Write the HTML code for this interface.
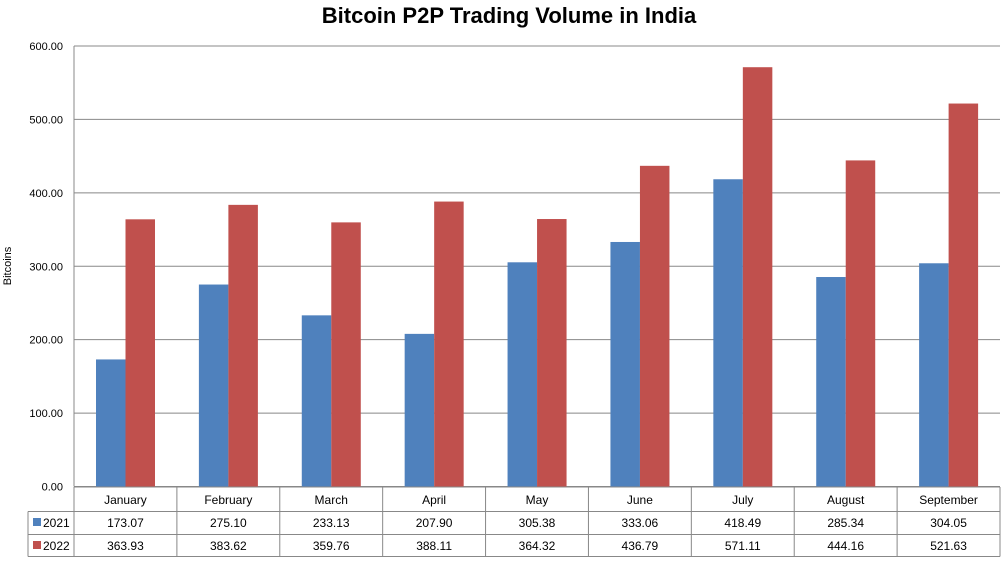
<!DOCTYPE html>
<html><head><meta charset="utf-8"><style>
body{margin:0;background:#fff;font-family:"Liberation Sans",sans-serif;}
svg text{font-family:"Liberation Sans",sans-serif;}
</style></head><body>
<svg width="1005" height="561" id="c">
<text x="509" y="23" text-anchor="middle" font-size="22" font-weight="bold">Bitcoin P2P Trading Volume in India</text>
<text transform="translate(11,266) rotate(-90)" text-anchor="middle" font-size="11">Bitcoins</text>
</svg>
<script>
const categories=["January","February","March","April","May","June","July","August","September"];
const s2021=[173.07,275.10,233.13,207.90,305.38,333.06,418.49,285.34,304.05];
const s2022=[363.93,383.62,359.76,388.11,364.32,436.79,571.11,444.16,521.63];
const yTicks=[0,100,200,300,400,500,600];
const svg=document.getElementById('c');const NS='http://www.w3.org/2000/svg';
const L=74,R=1000,T=46,B=486.5,tl=28;
const cw=(R-L)/categories.length;
const y=v=>B-(v/600)*(B-T);
function mk(t,a,p){const e=document.createElementNS(NS,t);for(const k in a)e.setAttribute(k,a[k]);(p||svg).appendChild(e);return e;}
yTicks.forEach(v=>{
 const g=mk('line',{x1:L,x2:R,y1:y(v),y2:y(v),stroke:'#888','stroke-width':1});
 
 
 const t=mk('text',{x:63,y:y(v)+4,'text-anchor':'end','font-size':11});t.textContent=v.toFixed(2);
 
 
});
mk('line',{x1:L,x2:L,y1:T,y2:B,stroke:'#888'});
const bw=29.5,off=22;
categories.forEach((c,i)=>{
 const x0=L+i*cw;
 const b1=mk('rect',{x:x0+off,y:y(s2021[i]),width:bw,height:B-y(s2021[i]),fill:'#4f81bd'});
 
 
 const b2=mk('rect',{x:x0+off+bw,y:y(s2022[i]),width:bw,height:B-y(s2022[i]),fill:'#c0504d'});
 
 
});
const rows=[487,511.5,534.5,556.5];
mk('line',{x1:L,x2:R,y1:rows[0],y2:rows[0],stroke:'#888'});
[1,2,3].forEach(r=>mk('line',{x1:tl,x2:R,y1:rows[r],y2:rows[r],stroke:'#888'}));
mk('line',{x1:tl,x2:tl,y1:rows[1],y2:rows[3],stroke:'#888'});
for(let i=0;i<=categories.length;i++){const x=L+i*cw;mk('line',{x1:x,x2:x,y1:rows[0],y2:rows[3],stroke:'#888'});}
categories.forEach((c,i)=>{
 const cx=L+(i+.5)*cw;
 const t=mk('text',{x:cx,y:504,'text-anchor':'middle','font-size':12});t.textContent=c;
 
 
 const a=mk('text',{x:cx,y:527,'text-anchor':'middle','font-size':12});a.textContent=s2021[i].toFixed(2);
 
 
 const b=mk('text',{x:cx,y:550,'text-anchor':'middle','font-size':12});b.textContent=s2022[i].toFixed(2);
 
 
});
[["2021",'#4f81bd',523],["2022",'#c0504d',546]].forEach(([n,c,yy])=>{
 const k=mk('rect',{x:33,y:yy-5,width:8,height:8,fill:c});
 
 
 const t=mk('text',{x:43,y:yy+4,'font-size':12});t.textContent=n;
 
 
});
</script>
</body></html>
